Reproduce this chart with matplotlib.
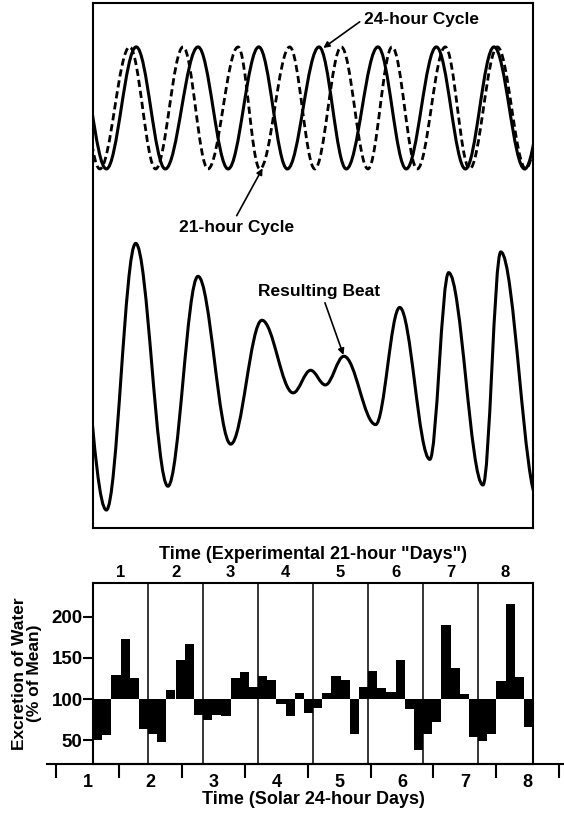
import numpy as np
import matplotlib.pyplot as plt
from matplotlib.path import Path
from matplotlib.patches import PathPatch

plt.rcParams['font.family'] = ['Liberation Sans', 'DejaVu Sans']
plt.rcParams['font.weight'] = 'bold'
plt.rcParams['axes.labelweight'] = 'bold'

# top panel: turning points (peaks / troughs)
# time in hours, level in units of one cycle's amplitude
cycle24_t = [-6.3, 5.1, 16.5, 27.6, 40.1, 51.6, 63.3, 74.2, 86.3, 96.7,
             108.8, 119.6, 131.1, 142.2, 153.1, 164.8, 176.2]
cycle24_v = [1, -1, 1, -1, 1, -1, 1, -1, 1, -1, 1, -1, 1, -1, 1, -1, 1]

cycle21_t = [-7.6, 2.6, 14.0, 23.9, 34.4, 43.9, 55.4, 63.7, 75.1, 84.7,
             94.8, 105.0, 114.2, 123.8, 134.5, 143.8, 154.4, 165.3, 175.3]
cycle21_v = [1, -1, 1, -1, 1, -1, 1, -1, 1, -1, 1, -1, 1, -1, 1, -1, 1, -1, 1]

beat_t = [-8.8, 5.1, 16.3, 28.6, 40.1, 52.6, 64.5, 76.4, 83.1, 88.7,
          95.8, 107.9, 117.1, 128.6, 135.8, 148.9, 155.7, 169.9]
beat_v = [2.2, -2.16, 2.21, -1.77, 1.67, -1.08, 0.95, -0.24, 0.13, -0.11,
          0.36, -0.76, 1.16, -1.33, 1.73, -1.75, 2.07, -2.0]

# bottom panel: water excretion (% of mean), 6 bins per 21-hour day
water = [50, 56, 129, 173, 126, 63,
         57, 48, 111, 147, 167, 81,
         75, 80, 79, 126, 133, 115,
         128, 123, 94, 79, 107, 83,
         89, 107, 128, 123, 57, 115,
         134, 113, 108, 147, 88, 38,
         58, 72, 190, 138, 106, 54,
         49, 57, 122, 216, 127, 66]
exp_day_labels = ['1', '2', '3', '4', '5', '6', '7', '8']
solar_day_labels = ['1', '2', '3', '4', '5', '6', '7', '8']
exp_day = 21.0
solar_day = 24.0
solar_start = -14.0   # first solar day boundary (hours)
bin_hours = 3.5


def smooth_path(t, v, offset=0.0):
    # cubic segments with flat tangents at each turning point
    verts = [(t[0], v[0] + offset)]
    codes = [Path.MOVETO]
    for i in range(len(t) - 1):
        dx = t[i + 1] - t[i]
        verts += [(t[i] + 0.3634 * dx, v[i] + offset),
                  (t[i + 1] - 0.3634 * dx, v[i + 1] + offset),
                  (t[i + 1], v[i + 1] + offset)]
        codes += [Path.CURVE4] * 3
    return Path(verts, codes)


W, H = 564, 815
fig = plt.figure(figsize=(W / 100, H / 100), dpi=100)

# ---- top panel
ax1 = fig.add_axes([93 / W, 1 - 528 / H, 440 / W, 525 / H])
ax1.set_xlim(0, 168)
ax1.set_ylim(-6.885, 1.72)
ax1.set_xticks([])
ax1.set_yticks([])
for s in ax1.spines.values():
    s.set_linewidth(1.5)

beat_offset = -4.43
ax1.add_patch(PathPatch(smooth_path(cycle24_t, cycle24_v), fill=False,
                        ec='black', lw=2.2))
ax1.add_patch(PathPatch(smooth_path(cycle21_t, cycle21_v), fill=False,
                        ec='black', lw=2.0, linestyle=(0, (2.6, 1.4))))
ax1.add_patch(PathPatch(smooth_path(beat_t, beat_v, beat_offset), fill=False,
                        ec='black', lw=2.2))

arrow = dict(arrowstyle='-|>', color='black', lw=1.2, mutation_scale=9,
             shrinkA=1, shrinkB=1)
ax1.annotate('24-hour Cycle', xy=(cycle24_t[8] + 1.2, cycle24_v[8] - 0.03),
             xytext=(0.615, 0.9695), textcoords='axes fraction',
             ha='left', va='center', fontsize=12.5,
             arrowprops=dict(arrow, relpos=(0, 0.5)))
ax1.annotate('21-hour Cycle', xy=(cycle21_t[7] + 1.3, cycle21_v[7] + 0.03),
             xytext=(0.196, 0.573), textcoords='axes fraction',
             ha='left', va='center', fontsize=12.5,
             arrowprops=dict(arrow, relpos=(0.48, 1)))
ax1.annotate('Resulting Beat', xy=(beat_t[10], beat_v[10] + beat_offset),
             xytext=(0.374, 0.451), textcoords='axes fraction',
             ha='left', va='center', fontsize=12.5,
             arrowprops=dict(arrow, relpos=(0.54, 0)))

# ---- bottom panel
ax2 = fig.add_axes([93 / W, 1 - 764 / H, 440 / W, 181 / H])
ax2.set_xlim(0, 8 * exp_day)
ax2.set_ylim(21, 241)
bin_left = np.arange(len(water)) * bin_hours
ax2.bar(bin_left, np.array(water) - 100, bottom=100, width=bin_hours,
        align='edge', color='black', linewidth=0)
for d in range(1, len(exp_day_labels)):
    ax2.axvline(d * exp_day, color='black', lw=1.1)
for s in ax2.spines.values():
    s.set_linewidth(1.5)

ax2.set_yticks([50, 100, 150, 200])
ax2.set_yticklabels(['50', '100', '150', '200'], fontweight='bold')
ax2.tick_params(axis='y', direction='out', length=7, width=1.5,
                labelsize=13.5, pad=0.5)
ax2.xaxis.tick_top()
ax2.set_xticks((np.arange(len(exp_day_labels)) + 0.5) * exp_day)
ax2.set_xticklabels(exp_day_labels, fontweight='bold')
ax2.tick_params(axis='x', length=0, labelsize=12, pad=2)
ax2.text(0.5, 1.16, 'Time (Experimental 21-hour "Days")', transform=ax2.transAxes,
         ha='center', va='center', fontsize=13)
ax2.set_ylabel('Excretion of Water\n(% of Mean)', fontsize=12.5,
               fontweight='bold', linespacing=1.05)
ax2.yaxis.set_label_coords(-0.115, 0.5)

# solar-day axis drawn along the bottom
h_per_px = 168 / 440
axs = fig.add_axes([47 / W, 1 - 764 / H, (W - 47) / W, 0.0001])
axs.set_xlim((47 - 93) * h_per_px, (W - 93) * h_per_px)
axs.patch.set_visible(False)
for k in ('top', 'left', 'right'):
    axs.spines[k].set_visible(False)
axs.spines['bottom'].set_linewidth(1.5)
axs.set_yticks([])
edges = solar_start + solar_day * np.arange(len(solar_day_labels) + 1)
axs.set_xticks(edges)
axs.set_xticklabels([])
axs.set_xticks(edges[:-1] + solar_day / 2, minor=True)
axs.set_xticklabels(solar_day_labels, minor=True, fontweight='bold')
axs.tick_params(axis='x', which='major', direction='out', length=10, width=1.5)
axs.tick_params(axis='x', which='minor', length=0, labelsize=13, pad=7)
fig.text((93 + 220) / W, 1 - 800 / H, 'Time (Solar 24-hour Days)',
         ha='center', va='center', fontsize=13)

fig.savefig('out.png', dpi=100)
